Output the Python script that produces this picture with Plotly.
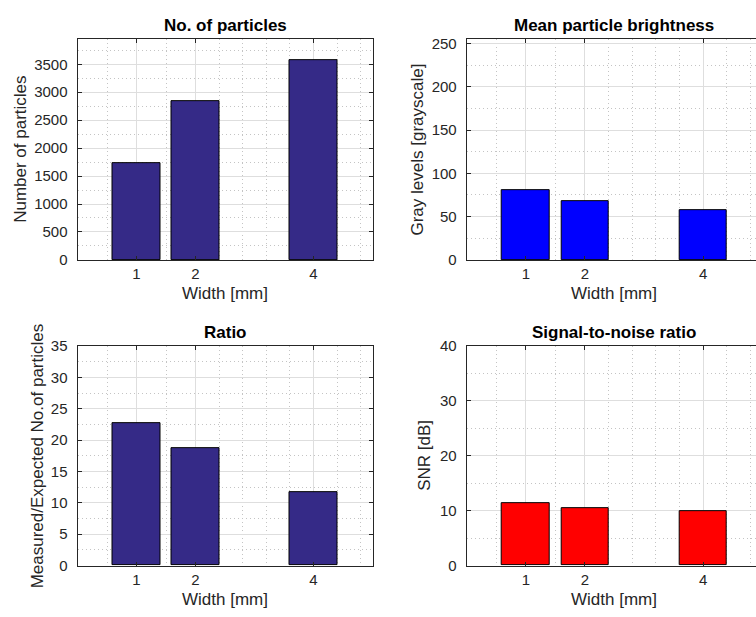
import plotly.graph_objects as go

W, H = 756, 617

# Data
widths = [1, 2, 4]
n_particles = [1735, 2848, 3579]
brightness = [80.9, 67.4, 57.3]
ratio = [22.74, 18.66, 11.68]
snr = [11.35, 10.46, 9.86]

titles = ["No. of particles", "Mean particle brightness", "Ratio", "Signal-to-noise ratio"]
ylabels = ["Number of particles", "Gray levels [grayscale]",
           "Measured/Expected No.of particles", "SNR [dB]"]
xlabel = "Width [mm]"

FONT = "Liberation Sans, Arial, Helvetica, sans-serif"
AX = "#262626"
MAJOR = "#DEDEDE"
MINOR = "#C4C4C4"

x_minor = [0.5, 1.5, 2.4, 2.8, 3.2, 3.6, 4.4, 4.8]

# panel geometry in pixels: (left, right, top, bottom)
panels = [
    dict(px=(77.5, 372.5, 31, 258), xr=[0, 5], yr=[0, 3950], ytick=500, yminor=250,
         vals=n_particles, color="#352A87", ytx=20.3, full=True),
    dict(px=(466.7, 756, 31, 258), xr=[0, 4.895], yr=[0, 255], ytick=50, yminor=25,
         vals=brightness, color="#0000FF", ytx=418, full=False),
    dict(px=(77.5, 372.5, 346.7, 572.3), xr=[0, 5], yr=[0, 35], ytick=5, yminor=2.5,
         vals=ratio, color="#352A87", ytx=37.5, full=True),
    dict(px=(466.7, 756, 346.7, 572.3), xr=[0, 4.895], yr=[0, 40], ytick=10, yminor=5,
         vals=snr, color="#FF0000", ytx=425, full=False),
]

fig = go.Figure()
layout = {}
annotations = []

for i, p in enumerate(panels):
    k = "" if i == 0 else str(i + 1)
    l, r, t, b = p["px"]
    fig.add_trace(go.Bar(
        x=widths, y=p["vals"], width=0.8,
        marker=dict(color=p["color"], line=dict(color="black", width=1)),
        xaxis="x" + k, yaxis="y" + k, showlegend=False,
    ))
    y0, y1 = p["yr"]
    yt = p["ytick"]
    yticks = [v * yt for v in range(int(y1 // yt) + 1)]
    ym = p["yminor"]
    yminor = [v * ym for v in range(int(y1 // ym) + 1) if (v * ym) % yt != 0]

    layout["xaxis" + k] = dict(
        domain=[l / W, r / W], range=p["xr"], anchor="y" + k,
        tickvals=widths, ticktext=[str(w) for w in widths],
        ticks="inside", ticklen=4, tickcolor=AX, tickwidth=1,
        showline=True, linecolor=AX, linewidth=1, mirror="ticks",
        showgrid=True, gridcolor=MAJOR, gridwidth=1,
        minor=dict(tickvals=x_minor, showgrid=True, gridcolor=MINOR,
                   griddash="1px,3px", gridwidth=1, ticks=""),
        tickfont=dict(family=FONT, size=15, color=AX),
        ticklabelstandoff=0, zeroline=False, fixedrange=True,
    )
    layout["yaxis" + k] = dict(
        domain=[1 - b / H, 1 - t / H], range=p["yr"], anchor="x" + k,
        tickvals=yticks,
        ticks="inside", ticklen=4, tickcolor=AX, tickwidth=1,
        showline=True, linecolor=AX, linewidth=1,
        mirror="ticks" if p["full"] else False,
        showgrid=True, gridcolor=MAJOR, gridwidth=1,
        minor=dict(tickvals=yminor, showgrid=True, gridcolor=MINOR,
                   griddash="1px,3px", gridwidth=1, ticks=""),
        tickfont=dict(family=FONT, size=15, color=AX),
        ticklabelstandoff=6, zeroline=False, fixedrange=True,
    )

    # subplot title, centred over the full axis width
    annotations.append(dict(
        text="<b>%s</b>" % titles[i], xref="x" + k, x=2.5,
        yref="paper", y=1 - (t - 14.5) / H, yanchor="middle",
        showarrow=False, font=dict(family=FONT, size=17, color="black"),
    ))
    # x-axis label
    annotations.append(dict(
        text=xlabel, xref="x" + k, x=2.5,
        yref="paper", y=1 - (b + 35) / H, yanchor="middle",
        showarrow=False, font=dict(family=FONT, size=17, color=AX),
    ))
    # y-axis label
    annotations.append(dict(
        text=ylabels[i], textangle=-90,
        xref="paper", x=p["ytx"] / W, xanchor="center",
        yref="paper", y=1 - (t + b) / 2 / H, yanchor="middle",
        showarrow=False, font=dict(family=FONT, size=17, color=AX),
    ))

fig.update_layout(
    width=W, height=H,
    margin=dict(l=0, r=0, t=0, b=0),
    paper_bgcolor="white", plot_bgcolor="white",
    annotations=annotations, bargap=0,
    **layout,
)

fig.write_html("out.html", config=dict(displayModeBar=False))
